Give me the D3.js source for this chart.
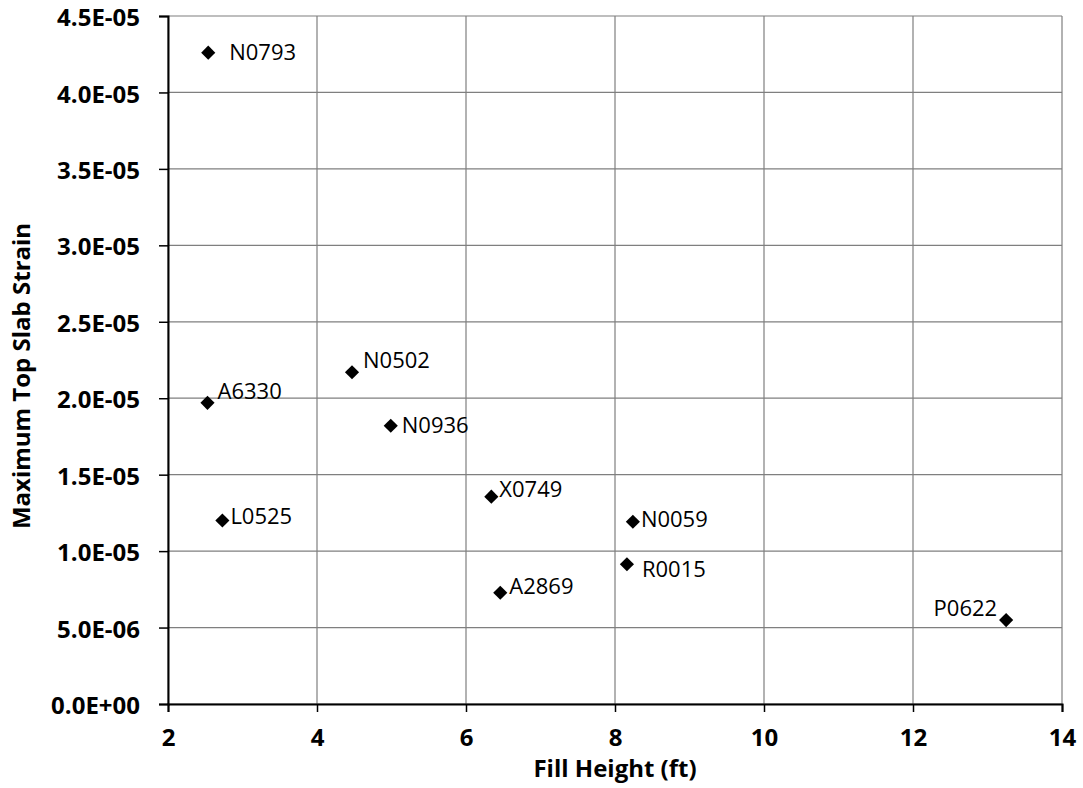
<!DOCTYPE html>
<html>
 <head>
  <meta charset="utf-8" />
  <title>Top Slab Strain vs Fill Height</title>
  <script src="https://cdn.jsdelivr.net/npm/d3@7"></script>
  <style>
    body { margin: 0; background: #fff; }
    text { font-family: "Open Sans", "Noto Sans", sans-serif; fill: #000; }
  </style>
 </head>
 <body>
  <script>
    // culvert ids, fill height (ft) and max top slab strain
    var culverts = ["N0793", "A6330", "L0525", "N0502", "N0936", "X0749", "A2869", "N0059", "R0015", "P0622"];
    var fillHeight = [2.54, 2.53, 2.73, 4.47, 4.99, 6.34, 6.46, 8.24, 8.16, 13.25];
    var strain = [4.26e-5, 1.97e-5, 1.20e-5, 2.17e-5, 1.82e-5, 1.356e-5, 0.728e-5, 1.192e-5, 0.914e-5, 0.549e-5];
    // label placement relative to the marker (like Excel's manual label drag)
    var labelDx = [21, 10, 8, 11, 11, 8, 9, 8, 15, -9];
    var labelDy = [0, -12, -4, -12, 0, -7, -6, -2, 5, -12];

    var xTicks = [2, 4, 6, 8, 10, 12, 14];
    var yTicks = d3.range(0, 10).map(function(i) { return i * 5e-6; });

    var W = 1083, H = 788,
        m = {left: 168, right: 21, top: 16, bottom: 84};

    var x = d3.scaleLinear().domain([2, 14]).range([m.left, W - m.right]),
        y = d3.scaleLinear().domain([0, 4.5e-5]).range([H - m.bottom, m.top]);

    var svg = d3.select("body").append("svg")
        .attr("width", W)
        .attr("height", H);

    // gridlines
    svg.append("g")
      .selectAll("line.gy")
      .data(yTicks)
      .enter().append("line")
        .attr("x1", m.left).attr("x2", W - m.right)
        .attr("y1", function(d) { return y(d); })
        .attr("y2", function(d) { return y(d); })
        .attr("stroke", "#7f7f7f").attr("stroke-width", 1.2);

    svg.append("g")
      .selectAll("line.gx")
      .data(xTicks)
      .enter().append("line")
        .attr("x1", function(d) { return x(d); })
        .attr("x2", function(d) { return x(d); })
        .attr("y1", m.top).attr("y2", H - m.bottom)
        .attr("stroke", "#7f7f7f").attr("stroke-width", 1.2);

    var fmt = function(d) {
      var s = d3.format(".1e")(d).toUpperCase();
      return s.replace(/E([+-])(\d)$/, "E$10$2");
    };

    var yAxis = svg.append("g")
        .attr("transform", "translate(" + m.left + ",0)")
        .call(d3.axisLeft(y).tickValues(yTicks).tickSize(9).tickPadding(19).tickFormat(fmt));

    var xAxis = svg.append("g")
        .attr("transform", "translate(0," + (H - m.bottom) + ")")
        .call(d3.axisBottom(x).tickValues(xTicks).tickSize(8).tickPadding(17).tickFormat(d3.format("d")));

    [xAxis, yAxis].forEach(function(a) {
      a.select(".domain").attr("stroke", "#000").attr("stroke-width", 2);
      a.selectAll(".tick line").attr("stroke", "#000").attr("stroke-width", 1.5);
      a.selectAll(".tick text")
        .attr("font-family", "'Open Sans', sans-serif")
        .attr("font-size", 24)
        .attr("font-weight", "bold")
        .attr("fill", "#000");
    });
    yAxis.selectAll(".tick text").attr("dy", "0.4em");

    // axis titles
    svg.append("text")
        .attr("x", (m.left + W - m.right) / 2)
        .attr("y", 777)
        .attr("text-anchor", "middle")
        .attr("font-size", 24)
        .attr("font-weight", "bold")
        .text("Fill Height (ft)");

    svg.append("text")
        .attr("transform", "translate(30,376) rotate(-90)")
        .attr("text-anchor", "middle")
        .attr("font-size", 24)
        .attr("font-weight", "bold")
        .text("Maximum Top Slab Strain");

    var pts = culverts.map(function(c, i) {
      return {id: c, fx: fillHeight[i], s: strain[i], dx: labelDx[i], dy: labelDy[i]};
    });

    // diamond markers
    svg.append("g")
      .selectAll("path")
      .data(pts)
      .enter().append("path")
        .attr("d", d3.symbol().type(d3.symbolSquare).size(100))
        .attr("transform", function(d) {
          return "translate(" + x(d.fx) + "," + y(d.s) + ") rotate(45)";
        })
        .attr("fill", "#000");

    svg.append("g")
      .selectAll("text")
      .data(pts)
      .enter().append("text")
        .attr("x", function(d) { return x(d.fx) + d.dx; })
        .attr("y", function(d) { return y(d.s) + d.dy; })
        .attr("dy", "0.35em")
        .attr("text-anchor", function(d) { return d.dx < 0 ? "end" : "start"; })
        .attr("font-size", 22)
        .text(function(d) { return d.id; });
  </script>
 </body>
</html>
